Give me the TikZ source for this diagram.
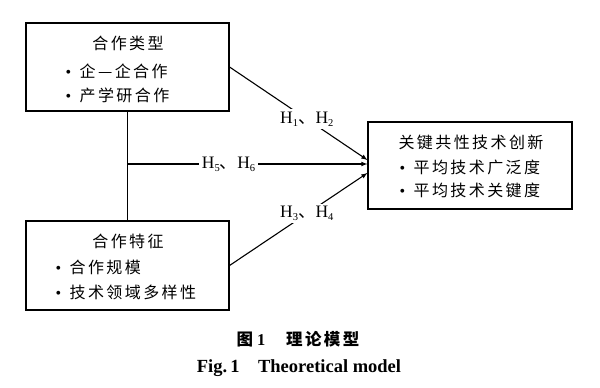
\documentclass[tikz,border=0pt]{standalone}
\usepackage{fontspec}
\setmainfont{Liberation Serif}
\newfontfamily\cjk{Noto Sans CJK SC}[LetterSpace=15]
\newcommand{\hs}[1]{H\raisebox{-0.35ex}{\fontsize{10.5}{10.5}\selectfont #1}}
\newcommand{\itm}[1]{\makebox[14pt][l]{\textbullet}{\cjk #1}}

\begin{document}
\begin{tikzpicture}[x=1pt,y=-1pt]
\tikzstyle{box}=[draw,line width=1.1pt,inner sep=0pt]
\tikzstyle{txt}=[inner sep=0pt,font=\fontsize{16}{16}\selectfont]
\tikzstyle{edge}=[draw,line width=1.1pt,-latex]
\tikzstyle{lab}=[fill=white,inner sep=2.5pt,font=\fontsize{17.5}{17.5}\selectfont]

\useasboundingbox (0,0) rectangle (600,388);

\node[box,minimum width=203pt,minimum height=88pt] (type) at (127.5,67) {};
\node[box,minimum width=203pt,minimum height=89pt] (feat) at (127.5,265.5) {};
\node[box,minimum width=204pt,minimum height=87pt] (innov) at (470,165.5) {};

\node[txt] (typet) at (128,43) {\cjk 合作类型};
\node[txt,anchor=west] (type1) at (65.5,71) {\itm{企—企合作}};
\node[txt,anchor=west] (type2) at (65.5,95) {\itm{产学研合作}};

\node[txt] (featt) at (128,241) {\cjk 合作特征};
\node[txt,anchor=west] (feat1) at (55.5,267) {\itm{合作规模}};
\node[txt,anchor=west] (feat2) at (55.5,292) {\itm{技术领域多样性}};

\node[txt] (innovt) at (471,142) {\cjk 关键共性技术创新};
\node[txt,anchor=west] (innov1) at (399.5,167) {\itm{平均技术广泛度}};
\node[txt,anchor=west] (innov2) at (399.5,190) {\itm{平均技术关键度}};

\coordinate (j) at (128,164);
\draw[line width=1.1pt] (type.south) -- (feat.north);

\path (type.east) edge[edge] node[lab,pos=0.56] {\hs{1}{\cjk 、}\hs{2}} ([yshift=5.5pt]innov.west);
\path (j) edge[edge] node[lab,pos=0.42] {\hs{5}{\cjk 、}\hs{6}} ([yshift=1.5pt]innov.west);
\path (feat.east) edge[edge] node[lab,pos=0.56] {\hs{3}{\cjk 、}\hs{4}} ([yshift=-7.5pt]innov.west);

\node[font=\fontsize{16.5}{16.5}\selectfont\bfseries] (capzh) at (298,339) {{\cjk 图}\ 1\quad\ {\cjk 理论模型}};
\node[font=\fontsize{18.5}{18.5}\selectfont\bfseries] (capen) at (299,368) {Fig.\,1\quad Theoretical model};

\end{tikzpicture}
\end{document}
